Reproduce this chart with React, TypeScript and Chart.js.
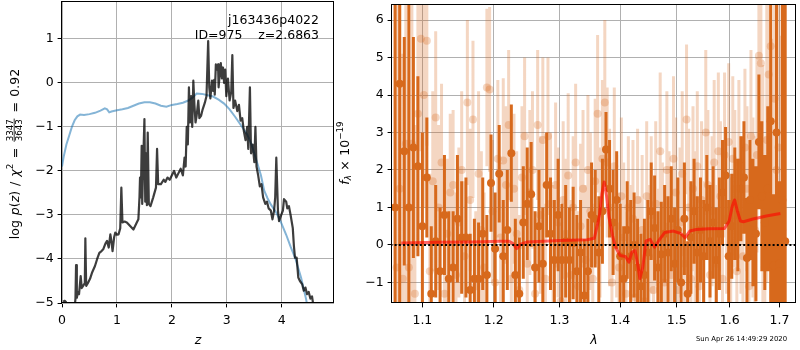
import React, { useEffect, useRef } from "react";
import { Chart, registerables } from "chart.js";

Chart.register(...registerables);

const FONT_FAMILY = "'DejaVu Sans', 'Liberation Sans', sans-serif";
const FS = 12.5;

// ---------------- left panel: p(z) ----------------
const zTicks = [0, 1, 2, 3, 4];
const logpTicks = [-5, -4, -3, -2, -1, 0, 1];

const priorZ = [
  0, 0.03, 0.08, 0.13, 0.18, 0.23, 0.28, 0.33, 0.4, 0.5,
  0.6, 0.7, 0.78, 0.82, 0.86, 0.9, 1.0, 1.1, 1.2, 1.3,
  1.4, 1.5, 1.6, 1.7, 1.8, 1.9, 2.0, 2.1, 2.2, 2.3,
  2.38, 2.45, 2.55, 2.65, 2.75, 2.85, 2.95, 3.05, 3.15, 3.25,
  3.37, 3.45, 3.56, 3.62, 3.68, 3.74, 3.8, 3.9, 3.98, 4.08,
  4.16, 4.25, 4.35, 4.44, 4.5,
];
const priorLogP = [
  -1.9, -1.68, -1.4, -1.2, -1.0, -0.85, -0.76, -0.72, -0.73, -0.71,
  -0.68, -0.63, -0.58, -0.6, -0.67, -0.65, -0.62, -0.6, -0.57, -0.52,
  -0.47, -0.44, -0.44, -0.47, -0.52, -0.54, -0.5, -0.48, -0.45, -0.4,
  -0.33, -0.24, -0.25, -0.28, -0.31, -0.38, -0.47, -0.6, -0.77, -0.95,
  -1.17, -1.4, -1.85, -2.1, -2.45, -2.62, -2.76, -2.95, -3.15, -3.45,
  -3.72, -4.0, -4.42, -4.9, -5.3,
];

const pzZ = [
  0.02, 0.05, 0.08, 0.15, 0.23, 0.245, 0.256, 0.27, 0.29, 0.31,
  0.34, 0.36, 0.39, 0.415, 0.425, 0.44, 0.47, 0.51, 0.55, 0.6,
  0.64, 0.68, 0.72, 0.75, 0.79, 0.82, 0.85, 0.88, 0.9, 0.92,
  0.95, 0.97, 1.0, 1.03, 1.06, 1.08, 1.1, 1.14, 1.18, 1.24,
  1.3, 1.35, 1.39, 1.41, 1.42, 1.435, 1.45, 1.46, 1.48, 1.5,
  1.515, 1.53, 1.545, 1.56, 1.58, 1.61, 1.66, 1.71, 1.73, 1.75,
  1.8, 1.85, 1.88, 1.92, 1.96, 2.0, 2.04, 2.08, 2.12, 2.16,
  2.2, 2.23, 2.25, 2.27, 2.29, 2.31, 2.33, 2.35, 2.37, 2.39,
  2.41, 2.43, 2.45, 2.48, 2.5, 2.53, 2.56, 2.6, 2.63, 2.66,
  2.68, 2.7, 2.73, 2.75, 2.77, 2.78, 2.8, 2.82, 2.84, 2.85,
  2.87, 2.89, 2.91, 2.93, 2.95, 2.97, 2.99, 3.02, 3.05, 3.08,
  3.1, 3.12, 3.15, 3.19, 3.22, 3.25, 3.28, 3.31, 3.34, 3.37,
  3.39, 3.42, 3.44, 3.47, 3.5, 3.52, 3.54, 3.57, 3.6, 3.63,
  3.66, 3.7, 3.73, 3.76, 3.8, 3.83, 3.86, 3.88, 3.9, 3.93,
  3.95, 3.99, 4.02, 4.04, 4.08, 4.1, 4.13, 4.16, 4.2, 4.22,
  4.24, 4.27, 4.3, 4.33, 4.37, 4.4, 4.43, 4.46, 4.49, 4.52,
  4.55, 4.58,
];
const pzLogP: (number | null)[] = [
  -4.97, -4.95, -4.99, null, -5.1, -4.9, -4.14, -4.88, -4.75, -4.8,
  -4.39, -4.66, -4.6, -4.55, -3.53, -4.61, -4.55, -4.45, -4.3, -4.16,
  -4.0, -3.86, -3.82, -3.78, -3.65, -3.59, -3.74, -3.44, -3.6, -3.82,
  -3.5, -3.4, -3.45, -3.44, -3.3, -2.38, -3.17, -3.15, -3.17, -3.25,
  -3.33, -3.2, -3.1, -2.6, -2.15, -2.6, -1.43, -2.75, -1.7, -0.82,
  -2.7, -1.6, -2.78, -1.13, -2.75, -2.8, -2.6, -2.38, -1.5, -2.3,
  -2.3, -2.2, -2.25, -2.15, -2.2, -2.1, -2.0, -2.15, -2.05, -1.95,
  -2.1, -1.7, -1.9, -1.0, -1.4, -0.1, -0.9, -0.3, -1.0, 0.05,
  -0.5, -0.9, -0.75, -0.4, -0.8, -0.75, -0.6, -0.45, -0.3, 0.95,
  -0.1, -0.35, 0.05, -0.18, 0.07, -0.27, 0.42, 0.3, 0.42, -0.1,
  0.2, 0.45, 0.1, 0.35, 0.0, 0.3, -0.3, 0.1, -0.4, -0.2,
  0.63, -0.57, -0.4, -0.64, -0.5, -0.86, -0.8, -1.1, -1.3, -1.0,
  -1.5, -0.1, -1.6, -1.4, -1.8, -1.0, -1.9, -2.1, -2.35, -2.3,
  -2.6, -2.75, -2.7, -2.85, -2.9, -3.1, -2.9, -2.6, -1.7, -2.9,
  -3.14, -3.0, -2.9, -2.64, -2.7, -2.85, -2.8, -3.0, -3.3, -3.7,
  -3.97, -3.97, -4.42, -4.5, -4.57, -4.72, -4.65, -4.8, -4.75, -4.9,
  -4.85, -5.1,
];

const annotLines = ["j163436p4022", "ID=975    z=2.6863"];

// ---------------- right panel: spectrum ----------------
const lambdaTicks = [1.1, 1.2, 1.3, 1.4, 1.5, 1.6, 1.7];
const fluxTicks = [-1, 0, 1, 2, 3, 4, 5, 6];

const darkWave = [
  1.064, 1.070, 1.076, 1.082, 1.088, 1.094, 1.100, 1.106, 1.112, 1.118,
  1.124, 1.130, 1.136, 1.142, 1.148, 1.154, 1.160, 1.166, 1.172, 1.178,
  1.184, 1.190, 1.196, 1.202, 1.208, 1.214, 1.220, 1.226, 1.232, 1.238,
  1.244, 1.250, 1.256, 1.262, 1.268, 1.274, 1.280, 1.286, 1.292, 1.298,
  1.304, 1.310, 1.316, 1.322, 1.328, 1.334, 1.340, 1.346, 1.352, 1.358,
  1.364, 1.370, 1.376, 1.382, 1.388, 1.394, 1.400, 1.406, 1.412, 1.418,
  1.424, 1.430, 1.436, 1.442, 1.448, 1.454, 1.460, 1.466, 1.472, 1.478,
  1.484, 1.490, 1.496, 1.502, 1.508, 1.514, 1.520, 1.526, 1.532, 1.538,
  1.544, 1.550, 1.556, 1.562, 1.568, 1.574, 1.580, 1.586, 1.592, 1.598,
  1.604, 1.610, 1.616, 1.622, 1.628, 1.634, 1.640, 1.646, 1.652, 1.658,
  1.664, 1.670, 1.676, 1.682, 1.688, 1.694, 1.700, 1.706, 1.712,
];
const darkFlux = [
  1.0, 4.3, 2.5, 1.0, 2.6, 2.1, 0.5, 1.8, -1.3, 0.1,
  -0.7, 0.8, -0.9, -0.6, 0.7, 0.2, 0.2, -1.2, -0.9, -0.9,
  0.3, -0.8, 1.65, -0.1, 1.9, -0.3, 0.4, 2.45, -0.8, -1.3,
  0.6, 1.1, 1.35, -0.6, 0.5, -0.5, 1.6, 0.3, -0.4, 0.8,
  -0.4, 0.1, -0.4, 0.05, -0.7, -0.2, -1.35, -0.7, 0.8, 0.7,
  -0.2, 0.9, 2.55, 1.5, 0.6, 1.2, -0.3, -0.9, 0.4, -0.3,
  0.0, -0.6, -1.1, -0.8, -0.2, 0.9, 0.45, -0.6, -0.25, 0.3,
  -0.2, 0.7, -0.5, 0.4, -1.0, 0.7, -1.3, 0.2, 0.9, -0.2,
  0.4, -0.3, 1.0, 0.1, 0.6, -0.4, 0.3, 1.4, 1.85, -0.3,
  0.5, 1.1, 0.8, 1.5, 1.8, -0.35, 1.2, 0.6, 0.3, 2.75,
  1.3, 0.6, 1.5, 3.3, -0.55, 3.0, -0.5, 1.2, 0.1,
];
const darkErr = [
  8, 8, 3.05, 8, 2.95, 2.4, 2.5, 1.6, 1.8, 1.5,
  1.7, 1.6, 1.8, 1.5, 1.7, 1.5, 1.6, 1.5, 1.6, 1.5,
  1.5, 1.6, 1.3, 1.5, 1.3, 1.5, 1.6, 1.3, 1.5, 1.5,
  1.5, 1.5, 1.4, 1.5, 1.5, 1.5, 1.4, 1.5, 1.6, 1.5,
  1.5, 1.5, 1.4, 1.5, 1.5, 1.4, 1.5, 1.4, 1.4, 1.3,
  1.5, 1.4, 1.0, 1.3, 1.4, 1.3, 1.4, 1.4, 1.3, 1.5,
  1.4, 1.3, 1.4, 1.5, 1.4, 1.3, 1.4, 1.5, 1.4, 1.3,
  1.5, 1.4, 1.5, 1.4, 1.3, 1.5, 1.4, 1.5, 1.4, 1.5,
  1.4, 1.5, 1.4, 1.5, 1.5, 1.4, 1.5, 1.4, 1.3, 1.5,
  1.4, 1.5, 1.5, 1.4, 1.5, 1.6, 1.6, 1.7, 1.8, 1.8,
  2.0, 1.8, 2.2, 5.5, 1.9, 7, 2.2, 8, 8,
];

const lightWave = [
  1.066, 1.070, 1.074, 1.078, 1.082, 1.086, 1.090, 1.094, 1.098, 1.102,
  1.106, 1.110, 1.114, 1.118, 1.122, 1.126, 1.130, 1.134, 1.138, 1.142,
  1.146, 1.150, 1.154, 1.158, 1.162, 1.166, 1.170, 1.174, 1.178, 1.182,
  1.186, 1.190, 1.194, 1.198, 1.202, 1.206, 1.210, 1.214, 1.218, 1.222,
  1.226, 1.230, 1.234, 1.238, 1.242, 1.246, 1.250, 1.254, 1.258, 1.262,
  1.266, 1.270, 1.274, 1.278, 1.282, 1.286, 1.290, 1.294, 1.298, 1.302,
  1.306, 1.310, 1.314, 1.318, 1.322, 1.326, 1.330, 1.334, 1.338, 1.342,
  1.346, 1.350, 1.354, 1.358, 1.362, 1.366, 1.370, 1.374, 1.378, 1.382,
  1.386, 1.390, 1.394, 1.398, 1.402, 1.406, 1.410, 1.414, 1.418, 1.422,
  1.426, 1.430, 1.434, 1.438, 1.442, 1.446, 1.450, 1.454, 1.458, 1.462,
  1.466, 1.470, 1.474, 1.478, 1.482, 1.486, 1.490, 1.494, 1.498, 1.502,
  1.506, 1.510, 1.514, 1.518, 1.522, 1.526, 1.530, 1.534, 1.538, 1.542,
  1.546, 1.550, 1.554, 1.558, 1.562, 1.566, 1.570, 1.574, 1.578, 1.582,
  1.586, 1.590, 1.594, 1.598, 1.602, 1.606, 1.610, 1.614, 1.618, 1.622,
  1.626, 1.630, 1.634, 1.638, 1.642, 1.646, 1.650, 1.654, 1.658, 1.662,
  1.666, 1.670, 1.674, 1.678, 1.682, 1.686, 1.690, 1.694, 1.698, 1.702,
  1.706,
];
const lightFlux = [
  -0.6, 1.5, -0.9, 2.7, -0.6, 2.7, -1.3, 3.5, 5.5, 4.0,
  5.45, -0.7, 1.7, 3.4, 1.0, 2.2, -1.3, 0.3, 1.4, 1.6,
  -0.8, 0.6, 2.0, -0.3, 3.8, 1.2, 3.35, -1.1, 1.9, 0.4,
  -0.6, 4.2, 4.15, 0.9, -1.0, 2.3, 0.2, 2.25, 1.6, 3.2,
  -0.9, 1.5, 0.3, -1.2, 1.8, 2.9, -0.5, 1.4, 2.0, -1.3,
  3.2, 0.8, 2.8, -0.9, 2.9, 1.1, -0.4, 1.6, 0.6, -1.5,
  1.2, 0.3, 1.85, -0.8, 1.0, 2.2, -1.1, 0.5, 1.5, -0.4,
  2.0, 0.9, -0.9, 1.7, 3.5, 0.6, 2.3, 3.8, 2.2, 1.0,
  -1.0, 2.1, 0.5, -0.6, 1.3, 0.2, -1.3, 1.0, -0.4, 0.7,
  -1.4, 1.2, -0.8, 0.4, -1.5, 1.3, -0.3, 0.8, -1.2, 1.1,
  -0.5, 2.5, 0.2, -1.0, 2.0, 0.5, -0.8, 2.3, 1.4, -1.2,
  0.6, 1.9, -0.5, 3.35, 1.0, -0.9, 1.5, 0.4, 2.1, -1.1,
  1.2, -0.3, 3.0, 1.6, -0.8, 0.9, 2.2, -0.5, 2.5, 1.3,
  -0.9, 2.4, 0.7, 2.75, -0.2, 2.3, 1.5, -0.7, 2.2, 0.8,
  -0.3, 2.6, 1.5, -1.1, 2.9, 1.0, 0.4, 2.4, 5.05, 4.85,
  1.6, -0.6, 2.8, 4.55, 5.3, 0.5, 3.9, 2.0, 2.6, -1.42,
  0.4,
];
const lightErr = [
  8, 7, 6, 5, 5, 4.5, 4.5, 3.5, 3, 3,
  2.8, 2.6, 2.4, 2.3, 2.2, 2.1, 2.1, 2.0, 2.1, 2.0,
  2.2, 2.0, 2.1, 2.0, 2.2, 1.9, 2.1, 2.0, 2.2, 2.1,
  2.0, 2.1, 2.2, 1.9, 2.0, 2.1, 2.0, 2.2, 2.1, 2.0,
  2.1, 2.0, 2.2, 2.0, 1.9, 2.1, 2.0, 2.2, 2.1, 2.0,
  2.0, 2.1, 2.2, 2.0, 2.1, 1.9, 2.0, 2.2, 2.0, 2.1,
  2.1, 2.0, 2.2, 2.0, 1.9, 2.1, 2.0, 2.2, 2.1, 2.0,
  2.0, 2.1, 2.0, 2.2, 2.1, 2.0, 2.1, 2.2, 2.0, 2.1,
  2.0, 2.1, 1.9, 2.0, 2.1, 2.0, 2.2, 1.9, 2.0, 2.1,
  2.0, 1.9, 2.1, 2.0, 2.1, 2.0, 1.9, 2.1, 2.0, 2.2,
  2.0, 2.1, 2.0, 2.2, 2.1, 2.0, 2.1, 2.2, 2.0, 2.1,
  2.0, 2.2, 2.1, 2.0, 2.1, 2.0, 2.2, 2.1, 2.0, 2.1,
  2.1, 2.0, 2.2, 2.0, 2.1, 2.0, 2.2, 2.1, 2.1, 2.0,
  2.1, 2.2, 2.0, 2.1, 2.0, 2.2, 2.1, 2.0, 2.2, 2.1,
  2.0, 2.1, 2.2, 2.2, 2.3, 2.4, 2.5, 2.6, 2.8, 3.0,
  3.2, 3.5, 3.8, 4.0, 4.5, 5, 5.5, 6, 7, 7,
  8,
];

const modelWave = [
  1.072, 1.12, 1.17, 1.21, 1.222, 1.228, 1.234, 1.24, 1.25, 1.3,
  1.345, 1.3566, 1.365, 1.369, 1.373, 1.377, 1.381, 1.387, 1.392, 1.4,
  1.409, 1.415, 1.42, 1.4257, 1.431, 1.434, 1.439, 1.445, 1.452, 1.46,
  1.469, 1.478, 1.494, 1.508, 1.515, 1.524, 1.536, 1.56, 1.59, 1.599,
  1.605, 1.6095, 1.615, 1.621, 1.627, 1.646, 1.66, 1.673, 1.702,
];
const modelFlux = [
  0.05, 0.07, 0.08, 0.1, 0.1, 0.04, -0.1, 0.02, 0.08, 0.12,
  0.14, 0.18, 0.77, 1.35, 1.68, 1.3, 0.73, 0.25, -0.06, -0.28,
  -0.31, -0.46, -0.2, -0.15, -0.59, -0.9, -0.6, 0.11, 0.15, -0.06,
  0.15, 0.33, 0.37, 0.3, 0.19, 0.37, 0.41, 0.43, 0.44, 0.64,
  1.04, 1.2, 0.91, 0.64, 0.62, 0.69, 0.73, 0.77, 0.84,
];

const timestamp = "Sun Apr 26 14:49:29 2020";

// ---------------- helpers ----------------
const fmt = (v: number) => (v < 0 ? "\u2212" + Math.abs(v) : String(v));

function errorBarPoints(w: number[], f: number[], e: number[]) {
  const pts: { x: number; y: number | null }[] = [];
  w.forEach((x, i) => {
    pts.push({ x, y: f[i] - e[i] }, { x, y: f[i] + e[i] }, { x, y: null });
  });
  return pts;
}

function drawFrame(ctx: CanvasRenderingContext2D, a: any) {
  ctx.save();
  ctx.strokeStyle = "#000";
  ctx.lineWidth = 1;
  ctx.strokeRect(a.left - 0.5, a.top + 0.5, a.right - a.left, a.bottom - a.top - 1);
  ctx.restore();
}

type MathItem =
  | { t: string; italic?: boolean; small?: boolean; dy?: number; pad?: number }
  | { num: string; den: string };

function drawMath(ctx: CanvasRenderingContext2D, items: MathItem[], bx: number, cy: number) {
  const big = FS;
  const small = FS * 0.7;
  const fontOf = (it: boolean, s: number) => `${it ? "italic " : ""}${s}px ${FONT_FAMILY}`;
  const widths = items.map((it) => {
    if ("num" in it) {
      ctx.font = fontOf(false, small);
      return Math.max(ctx.measureText(it.num).width, ctx.measureText(it.den).width) + 2;
    }
    ctx.font = fontOf(!!it.italic, it.small ? small : big);
    return ctx.measureText(it.t).width + 2 * (it.pad ?? 0);
  });
  const total = widths.reduce((s, w) => s + w, 0);
  ctx.save();
  ctx.translate(bx, cy);
  ctx.rotate(-Math.PI / 2);
  ctx.fillStyle = "#000";
  ctx.strokeStyle = "#000";
  ctx.textBaseline = "alphabetic";
  ctx.textAlign = "left";
  let x = -total / 2;
  items.forEach((it, i) => {
    const w = widths[i];
    if ("num" in it) {
      ctx.font = fontOf(false, small);
      const wn = ctx.measureText(it.num).width;
      const wd = ctx.measureText(it.den).width;
      ctx.fillText(it.num, x + (w - wn) / 2, -5.6);
      ctx.fillText(it.den, x + (w - wd) / 2, 3.0);
      ctx.lineWidth = 0.8;
      ctx.beginPath();
      ctx.moveTo(x + 0.5, -4.3);
      ctx.lineTo(x + w - 0.5, -4.3);
      ctx.stroke();
    } else {
      ctx.font = fontOf(!!it.italic, it.small ? small : big);
      ctx.fillText(it.t, x + (it.pad ?? 0), it.dy ?? 0);
    }
    x += w;
  });
  ctx.restore();
}

const leftLabel: MathItem[] = [
  { t: "log" },
  { t: " ", pad: 0.5 },
  { t: "p", italic: true },
  { t: "(" },
  { t: "z", italic: true },
  { t: ")" },
  { t: " / ", pad: 1 },
  { t: "\u03c7", italic: true },
  { t: "2", small: true, dy: -5.5 },
  { t: " = ", pad: 1.5 },
  { num: "3347", den: "3643" },
  { t: " = ", pad: 1.5 },
  { t: "0.92" },
];

const rightLabel: MathItem[] = [
  { t: "f", italic: true },
  { t: "\u03bb", italic: true, small: true, dy: 2.6 },
  { t: " \u00d7 ", pad: 0.5 },
  { t: "10" },
  { t: "\u221219", small: true, dy: -5.8 },
];

const tickFont = { family: FONT_FAMILY, size: FS };

function axisCommon(ticks: number[], formatter: (v: number) => string, pad: number) {
  return {
    afterBuildTicks: (ax: any) => {
      ax.ticks = ticks.map((v) => ({ value: v }));
    },
    ticks: {
      color: "#000",
      font: tickFont,
      padding: pad,
      autoSkip: false,
      maxRotation: 0,
      callback: (v: any) => formatter(Number(v)),
    },
    grid: {
      color: "#b0b0b0",
      lineWidth: 1,
      tickColor: "#000",
      tickLength: 4.4,
      drawTicks: true,
    },
    border: { display: false },
  };
}

function fixX(ax: any) {
  ax.height = 47;
  ax.paddingLeft = 0;
  ax.paddingRight = 0;
  ax.paddingTop = 0;
  ax.paddingBottom = 0;
}

function fixY(width: number) {
  return (ax: any) => {
    ax.width = width;
    ax.paddingTop = 0;
    ax.paddingBottom = 0;
    ax.paddingLeft = 0;
    ax.paddingRight = 0;
  };
}

const leftDecor = {
  id: "leftDecor",
  afterDraw(chart: any) {
    const { ctx, chartArea } = chart;
    drawFrame(ctx, chartArea);
    ctx.save();
    ctx.fillStyle = "#000";
    ctx.font = `${FS}px ${FONT_FAMILY}`;
    ctx.textAlign = "right";
    ctx.textBaseline = "alphabetic";
    ctx.fillText(annotLines[0], 319, 24.3);
    ctx.fillText(annotLines[1], 319, 38.6);
    ctx.restore();
    drawMath(ctx, leftLabel, 18.5, 154);
  },
};

const RIGHT_OFFSET = 335;

const rightDecor = {
  id: "rightDecor",
  afterDraw(chart: any) {
    const { ctx, chartArea } = chart;
    drawFrame(ctx, chartArea);
    drawMath(ctx, rightLabel, 348.5 - RIGHT_OFFSET, 153);
    ctx.save();
    ctx.fillStyle = "#000";
    ctx.font = `6.9px ${FONT_FAMILY}`;
    ctx.textAlign = "left";
    ctx.textBaseline = "middle";
    ctx.fillText(timestamp, 696 - RIGHT_OFFSET, 339.5);
    ctx.restore();
  },
};

function leftConfig(): any {
  return {
    type: "line",
    data: {
      datasets: [
        {
          data: priorZ.map((x, i) => ({ x, y: priorLogP[i] })),
          borderColor: "rgba(31,119,180,0.55)",
          borderWidth: 2,
          pointRadius: 0,
          tension: 0,
          clip: 0,
          order: 2,
        },
        {
          data: pzZ.map((x, i) => ({ x, y: pzLogP[i] })),
          borderColor: "rgba(0,0,0,0.76)",
          borderWidth: 2.2,
          borderJoinStyle: "round",
          pointRadius: 0,
          spanGaps: false,
          tension: 0,
          clip: 0,
          order: 1,
        },
      ],
    },
    options: {
      responsive: false,
      animation: false,
      devicePixelRatio: 1,
      layout: { padding: { left: 0, right: 1, top: 1, bottom: 0 } },
      plugins: { legend: { display: false }, tooltip: { enabled: false } },
      scales: {
        x: {
          type: "linear",
          min: 0,
          max: 4.95,
          ...axisCommon(zTicks, fmt, 5.5),
          afterFit: fixX,
          title: {
            display: true,
            text: "z",
            color: "#000",
            font: { family: FONT_FAMILY, size: FS, style: "italic" },
            padding: { top: 0, bottom: 1.5 },
          },
        },
        y: {
          type: "linear",
          min: -5,
          max: 1.86,
          ...axisCommon(logpTicks, fmt, 4),
          afterFit: fixY(62),
        },
      },
    },
    plugins: [leftDecor],
  };
}

function rightConfig(): any {
  const dark = "rgb(215,105,28)";
  const light = "rgba(215,105,28,0.27)";
  return {
    type: "line",
    data: {
      datasets: [
        {
          data: errorBarPoints(lightWave, lightFlux, lightErr),
          borderColor: light,
          borderWidth: 3,
          borderCapStyle: "butt",
          pointRadius: 0,
          spanGaps: false,
          clip: 0,
          order: 6,
        },
        {
          data: lightWave.map((x, i) => ({ x, y: lightFlux[i] })),
          showLine: false,
          pointRadius: 4,
          pointBorderWidth: 0,
          pointBackgroundColor: light,
          clip: 0,
          order: 5,
        },
        {
          data: errorBarPoints(darkWave, darkFlux, darkErr),
          borderColor: dark,
          borderWidth: 3,
          borderCapStyle: "butt",
          pointRadius: 0,
          spanGaps: false,
          clip: 0,
          order: 4,
        },
        {
          data: darkWave.map((x, i) => ({ x, y: darkFlux[i] })),
          showLine: false,
          pointRadius: 4,
          pointBorderWidth: 0,
          pointBackgroundColor: dark,
          clip: 0,
          order: 3,
        },
        {
          data: modelWave.map((x, i) => ({ x, y: modelFlux[i] })),
          borderColor: "rgba(255,0,0,0.6)",
          borderWidth: 3,
          borderJoinStyle: "round",
          pointRadius: 0,
          tension: 0,
          clip: 0,
          order: 2,
        },
        {
          data: [
            { x: 1.0, y: 0 },
            { x: 1.8, y: 0 },
          ],
          borderColor: "#000",
          borderWidth: 2,
          borderDash: [2, 2.2],
          pointRadius: 0,
          clip: 0,
          order: 1,
        },
      ],
    },
    options: {
      responsive: false,
      animation: false,
      devicePixelRatio: 1,
      layout: { padding: { left: 0, right: 0, top: 1, bottom: 0 } },
      plugins: { legend: { display: false }, tooltip: { enabled: false } },
      scales: {
        x: {
          type: "logarithmic",
          min: 1.06,
          max: 1.7347,
          ...axisCommon(lambdaTicks, (v) => v.toFixed(1), 5.5),
          afterFit: fixX,
          title: {
            display: true,
            text: "\u03bb",
            color: "#000",
            font: { family: FONT_FAMILY, size: FS, style: "italic" },
            padding: { top: 0, bottom: 1.5 },
          },
        },
        y: {
          type: "linear",
          min: -1.55,
          max: 6.43,
          ...axisCommon(fluxTicks, fmt, 4),
          afterFit: fixY(392 - RIGHT_OFFSET),
        },
      },
    },
    plugins: [rightDecor],
  };
}

export default function App() {
  const leftRef = useRef<HTMLCanvasElement>(null);
  const rightRef = useRef<HTMLCanvasElement>(null);

  useEffect(() => {
    const c1 = new Chart(leftRef.current as HTMLCanvasElement, leftConfig());
    const c2 = new Chart(rightRef.current as HTMLCanvasElement, rightConfig());
    return () => {
      c1.destroy();
      c2.destroy();
    };
  }, []);

  return (
    <div style={{ position: "absolute", left: 0, top: 0, width: 800, height: 350, background: "#fff" }}>
      <canvas
        ref={leftRef}
        width={RIGHT_OFFSET}
        height={350}
        style={{ position: "absolute", left: 0, top: 0, width: RIGHT_OFFSET, height: 350 }}
      />
      <canvas
        ref={rightRef}
        width={800 - RIGHT_OFFSET}
        height={350}
        style={{ position: "absolute", left: RIGHT_OFFSET, top: 0, width: 800 - RIGHT_OFFSET, height: 350 }}
      />
    </div>
  );
}
